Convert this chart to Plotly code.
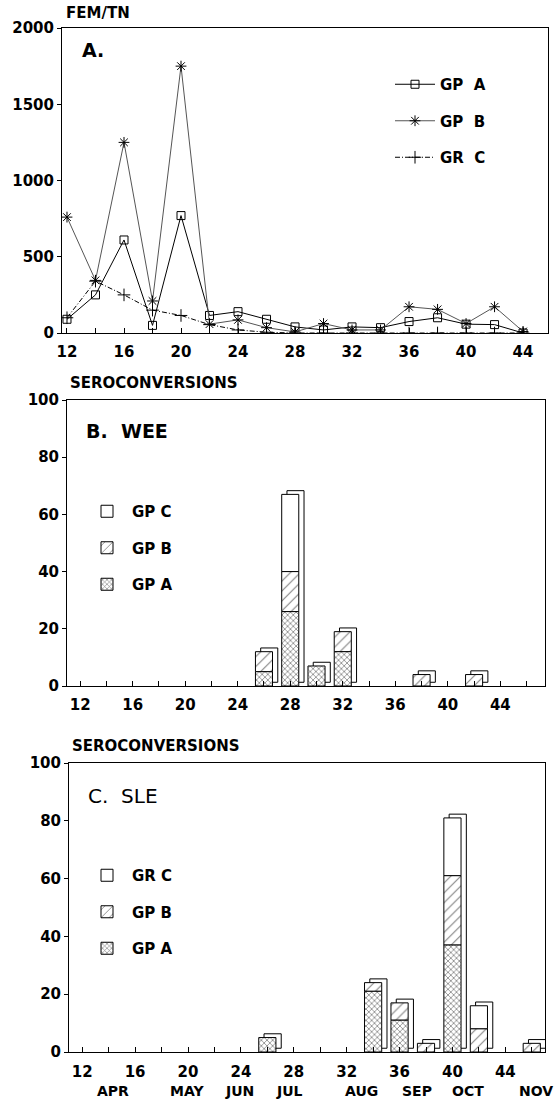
import plotly.graph_objects as go

W, H = 558, 1101
def px(x): return x / W
def py(y): return 1 - y / H

# ---------------- data ----------------
weeks_a = [12, 14, 16, 18, 20, 22, 24, 26, 28, 30, 32, 34, 36, 38, 40, 42, 44]
fem_gp_a = [90, 250, 610, 50, 770, 115, 140, 90, 40, 20, 40, 35, 75, 100, 58, 55, 0]
fem_gp_b = [760, 345, 1250, 210, 1750, 58, 86, 35, 7, 62, 20, 20, 172, 155, 62, 172, 10]
fem_gr_c = [100, 340, 250, 150, 115, 55, 20, 5, 0, 0, 0, 0, 0, 0, 0, 0, 0]

weeks_wee = [26, 28, 30, 32, 38, 42]
wee_gp_a = [5, 26, 7, 12, 0, 0]
wee_gp_b = [7, 14, 0, 7, 4, 4]
wee_gp_c = [0, 27, 0, 0, 0, 0]

weeks_sle = [26, 34, 36, 38, 40, 42, 46]
sle_gp_a = [5, 21, 11, 0, 37, 0, 0]
sle_gp_b = [0, 3, 6, 3, 24, 8, 3]
sle_gr_c = [0, 0, 0, 0, 20, 8, 0]

x_tick_vals = list(range(12, 48, 2))
x_tick_labels = ["12", "16", "20", "24", "28", "32", "36", "40", "44"]
months = ["APR", "MAY", "JUN", "JUL", "AUG", "SEP", "OCT", "NOV"]
month_pos = [14.3, 19.9, 23.9, 27.7, 33.1, 37.3, 41.2, 46.3]

FONT = "DejaVu Sans, Verdana, sans-serif"

def nz(v):
    return [x if x else None for x in v]

def ticktext_for(vals):
    return [str(v) if str(v) in x_tick_labels else "" for v in vals]

fig = go.Figure()

# ---------------- panel A ----------------
fig.add_trace(go.Scatter(x=weeks_a, y=fem_gp_a, name="GP  A", mode="lines+markers",
                         line=dict(color="black", width=1),
                         marker=dict(symbol="square-open", size=8, color="black", line=dict(width=1)),
                         legend="legend", legendgroup="a1", xaxis="x", yaxis="y"))
fig.add_trace(go.Scatter(x=weeks_a, y=fem_gp_b, name="GP  B", mode="lines+markers",
                         line=dict(color="#555", width=1),
                         marker=dict(symbol="asterisk-open", size=9, color="black", line=dict(width=1)),
                         legend="legend", legendgroup="a2", xaxis="x", yaxis="y"))
fig.add_trace(go.Scatter(x=weeks_a, y=fem_gr_c, name="GR  C", mode="lines+markers",
                         line=dict(color="black", width=1, dash="5px,2px,1px,2px"),
                         marker=dict(symbol="cross-thin-open", size=9, color="black", line=dict(width=1)),
                         legend="legend", legendgroup="a3", xaxis="x", yaxis="y"))

# ---------------- stacked 3-D-like bars ----------------
BW = 1.3
DEPTH_X = 0.4
DEPTH_Y = 1.3

def add_bars(weeks, a, b, c, xa, ya, leg, names):
    tot = [i + j + k for i, j, k in zip(a, b, c)]
    fig.add_trace(go.Bar(x=weeks, y=tot, base=[DEPTH_Y] * len(weeks), width=BW, offset=-BW / 2 + DEPTH_X,
                         marker=dict(color="white", line=dict(color="black", width=1)),
                         showlegend=False, hoverinfo="skip", xaxis=xa, yaxis=ya))
    base_b = a
    base_c = [i + j for i, j in zip(a, b)]
    fig.add_trace(go.Bar(x=weeks, y=nz(c), base=base_c, width=BW, offset=-BW / 2, name=names[2],
                         marker=dict(color="white", line=dict(color="black", width=1)),
                         legend=leg, legendgroup=leg + "c", xaxis=xa, yaxis=ya))
    fig.add_trace(go.Bar(x=weeks, y=nz(b), base=base_b, width=BW, offset=-BW / 2, name=names[1],
                         marker=dict(color="white", line=dict(color="black", width=1),
                                     pattern=dict(shape="/", fgcolor="black", bgcolor="white", size=7, solidity=0.15)),
                         legend=leg, legendgroup=leg + "b", xaxis=xa, yaxis=ya))
    fig.add_trace(go.Bar(x=weeks, y=nz(a), base=[0] * len(weeks), width=BW, offset=-BW / 2, name=names[0],
                         marker=dict(color="white", line=dict(color="black", width=1),
                                     pattern=dict(shape="x", fgcolor="black", bgcolor="white", size=4, solidity=0.35)),
                         legend=leg, legendgroup=leg + "a", xaxis=xa, yaxis=ya))

add_bars(weeks_wee, wee_gp_a, wee_gp_b, wee_gp_c, "x2", "y2", "legend2", ["GP A", "GP B", "GP C"])
add_bars(weeks_sle, sle_gp_a, sle_gp_b, sle_gr_c, "x3", "y3", "legend3", ["GP A", "GP B", "GR C"])

axis_common = dict(showline=True, linecolor="black", linewidth=1, mirror=True,
                   showgrid=False, zeroline=False, automargin=False,
                   tickfont=dict(family=FONT, size=15, color="black", weight="bold"),
                   tickcolor="black")

xt = dict(tickmode="array", tickvals=x_tick_vals, ticktext=ticktext_for(x_tick_vals),
          ticks="inside", ticklen=5)

fig.update_layout(
    width=W, height=H, margin=dict(l=0, r=0, t=0, b=0),
    paper_bgcolor="white", plot_bgcolor="white",
    barmode="overlay",
    font=dict(family=FONT, color="black", size=15, weight="bold"),
    xaxis=dict(domain=[px(62), px(548)], range=[11.65, 45.75], anchor="y",
               ticklabelstandoff=5, **xt, **axis_common),
    yaxis=dict(domain=[py(333), py(28)], range=[0, 2000], anchor="x",
               tickvals=[0, 500, 1000, 1500, 2000], ticks="outside", ticklen=4, **axis_common),
    xaxis2=dict(domain=[px(67), px(545)], range=[11.0, 47.4], anchor="y2",
                ticklabelstandoff=5, **xt, **axis_common),
    yaxis2=dict(domain=[py(686), py(400)], range=[0, 100], anchor="x2",
                tickvals=[0, 20, 40, 60, 80, 100], ticks="outside", ticklen=4, **axis_common),
    xaxis3=dict(domain=[px(69), px(545)], range=[11.0, 47.0], anchor="y3",
                ticklabelstandoff=6, **xt, **axis_common),
    yaxis3=dict(domain=[py(1052), py(763)], range=[0, 100], anchor="x3",
                tickvals=[0, 20, 40, 60, 80, 100], ticks="outside", ticklen=4, **axis_common),
    legend=dict(x=px(390), y=py(68), xanchor="left", yanchor="top", bgcolor="rgba(0,0,0,0)",
                font=dict(size=15), itemwidth=40, tracegroupgap=14, traceorder="grouped"),
    legend2=dict(x=px(82), y=py(495), xanchor="left", yanchor="top", bgcolor="rgba(0,0,0,0)",
                 font=dict(size=15), itemwidth=40, tracegroupgap=14, traceorder="grouped"),
    legend3=dict(x=px(82), y=py(859), xanchor="left", yanchor="top", bgcolor="rgba(0,0,0,0)",
                 font=dict(size=15), itemwidth=40, tracegroupgap=14, traceorder="grouped"),
)

ann = [
    dict(text="FEM/TN", x=px(64), y=py(13), size=15),
    dict(text="A.", x=px(80), y=py(50), size=19),
    dict(text="SEROCONVERSIONS", x=px(68), y=py(383), size=15),
    dict(text="B.  WEE", x=px(84), y=py(431), size=19),
    dict(text="SEROCONVERSIONS", x=px(70), y=py(746), size=15),
    dict(text="C.  SLE", x=px(86), y=py(796), size=20, weight="normal"),
]
for a in ann:
    fig.add_annotation(text=a["text"], x=a["x"], y=a["y"], xref="paper", yref="paper",
                       xanchor="left", yanchor="middle", showarrow=False,
                       font=dict(family=FONT, size=a["size"], color="black",
                                 weight=a.get("weight", "bold")))

for m, pos in zip(months, month_pos):
    fig.add_annotation(text=m, x=pos, y=py(1091), xref="x3", yref="paper",
                       xanchor="center", yanchor="middle", showarrow=False,
                       font=dict(family=FONT, size=14, color="black", weight="bold"))

fig.write_html("out.html", config={"displayModeBar": False},
               post_script="document.body.style.margin='0';document.body.style.overflow='hidden';")
